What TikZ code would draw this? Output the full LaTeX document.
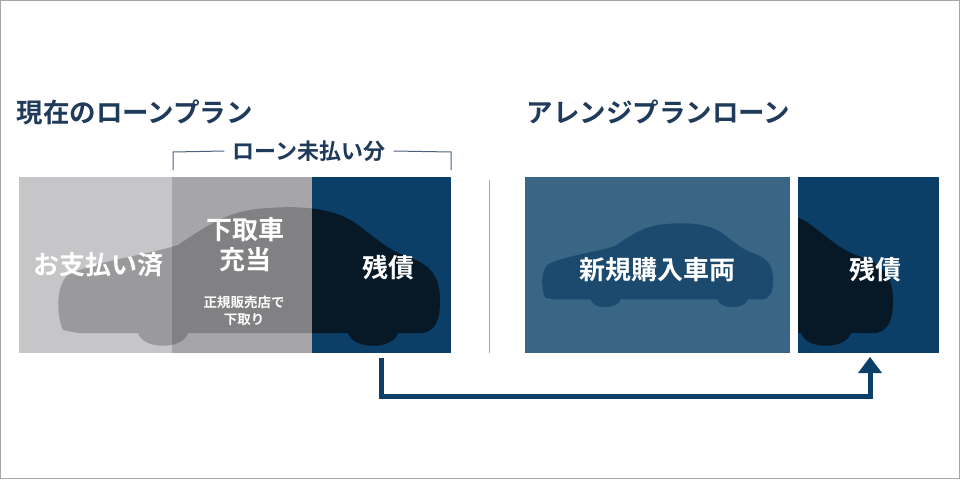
\documentclass[tikz,border=0pt]{standalone}
\usepackage{fontspec}
\newfontfamily\jp{Noto Sans CJK JP}[BoldFont={Noto Sans CJK JP Bold}]
\usetikzlibrary{positioning}
\definecolor{navy}{HTML}{0C3F68}
\definecolor{titleblue}{HTML}{1F3A5A}
\definecolor{paidgray}{HTML}{C6C6C9}
\definecolor{tradegray}{HTML}{A6A6A8}
\definecolor{newblue}{HTML}{386684}
\definecolor{newcar}{HTML}{1B4A6E}
\definecolor{darkcar}{HTML}{071826}
% car outline, local size 382 x 140
\newcommand{\carpath}{(5,125) .. controls (-2,110) and (-2,80) .. (10,70)
  .. controls (40,55) and (90,50) .. (120,40)
  .. controls (150,20) and (170,5) .. (210,3)
  .. controls (250,0) and (280,5) .. (300,20)
  .. controls (320,35) and (330,45) .. (350,52)
  .. controls (375,60) and (382,75) .. (382,95)
  .. controls (382,115) and (378,125) .. (365,128)
  -- (340,128) .. controls (335,145) and (295,145) .. (290,128)
  -- (130,128) .. controls (125,145) and (85,145) .. (80,128)
  -- (20,128) -- cycle}
\tikzset{
  title/.style={font=\jp\bfseries\fontsize{26.5}{30}\selectfont, text=titleblue},
  boxtext/.style={font=\jp\bfseries\fontsize{26}{30}\selectfont, text=white},
  smalltext/.style={font=\jp\bfseries\fontsize{13.5}{17}\selectfont, text=white},
  flow/.style={navy, line width=5pt}
}
\begin{document}
\begin{tikzpicture}[x=1pt, y=-1pt]
  \useasboundingbox (0,0) rectangle (960,479);
  \fill[white] (0,0) rectangle (960,479);
  \draw[gray!70, line width=1pt] (0.5,0.5) rectangle (959.5,478.5);
  % titles
  \node[title, anchor=west] (curtitle) at (13,112) {現在のローンプラン};
  \node[title, anchor=west] (newtitle) at (523,112) {アレンジプランローン};
  % left boxes
  \fill[paidgray] (19,177) rectangle (172,353);
  \fill[tradegray] (172,177) rectangle (312,353);
  \fill[navy] (312,177) rectangle (451,353);
  \fill[black, opacity=0.22] [shift={(58,205)}] \carpath;
  \begin{scope}
    \clip (312,177) rectangle (451,353);
    \fill[darkcar] [shift={(58,205)}] \carpath;
  \end{scope}
  % bracket
  \node[font=\jp\bfseries\fontsize{22}{26}\selectfont, text=titleblue, inner xsep=8pt] (unpaid) at (309,151) {ローン未払い分};
  \draw[titleblue!80, line width=1pt] (unpaid.west) -- (173,152) -- (173,170);
  \draw[titleblue!80, line width=1pt] (unpaid.east) -- (451,152) -- (451,170);
  % left texts
  \node[boxtext] (paid) at (98,265) {お支払い済};
  \node[boxtext, align=center] (trade) at (245,245) {下取車\\充当};
  \node[smalltext, align=center] (dealer) at (244,311) {正規販売店で\\下取り};
  \node[boxtext] (rest) at (388,268) {残債};
  % separator
  \draw[gray!70, line width=1pt] (489,180) -- (489,353);
  % right boxes
  \fill[newblue] (525,177) rectangle (790,353);
  \fill[newcar] [shift={(542,222)}, scale=0.605] \carpath;
  \fill[navy] (798,177) rectangle (939,353);
  \begin{scope}
    \clip (798,177) rectangle (939,353);
    \fill[darkcar] [shift={(511,205)}] \carpath;
  \end{scope}
  \node[boxtext] (newcar) at (657,270) {新規購入車両};
  \node[boxtext] (rest2) at (875,270) {残債};
  % arrow
  \coordinate (from) at (381,358);
  \coordinate (to) at (870,357);
  \draw[flow] (from) -- (381,396) -- (870,396) -- (870,372);
  \fill[navy] (to) -- (882,373) -- (858,373) -- cycle;
\end{tikzpicture}
\end{document}
